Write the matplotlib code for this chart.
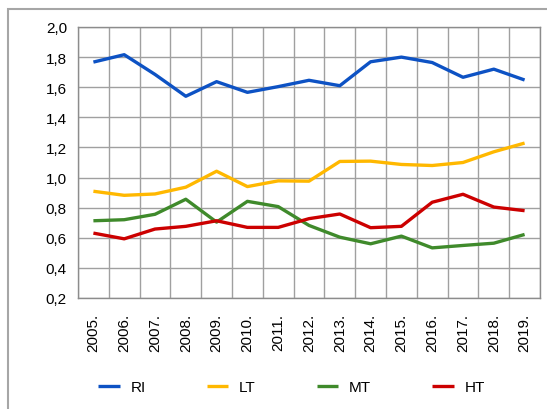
import matplotlib
matplotlib.use("Agg")
import matplotlib.pyplot as plt
from matplotlib.patches import Rectangle
import numpy as np

plt.rcParams['font.family'] = ['Liberation Sans', 'DejaVu Sans']

years = ['2005.', '2006.', '2007.', '2008.', '2009.', '2010.', '2011.', '2012.',
         '2013.', '2014.', '2015.', '2016.', '2017.', '2018.', '2019.']
ri = [1.767, 1.816, 1.685, 1.54, 1.637, 1.566, 1.604, 1.646, 1.61, 1.769, 1.80, 1.764, 1.666, 1.72, 1.648]
lt = [0.909, 0.882, 0.891, 0.936, 1.042, 0.94, 0.978, 0.976, 1.107, 1.109, 1.087, 1.08, 1.10, 1.171, 1.229]
mt = [0.713, 0.72, 0.756, 0.856, 0.704, 0.842, 0.807, 0.682, 0.604, 0.56, 0.611, 0.533, 0.549, 0.564, 0.622]
ht = [0.631, 0.593, 0.658, 0.676, 0.713, 0.669, 0.669, 0.727, 0.758, 0.667, 0.676, 0.836, 0.889, 0.804, 0.78]

series = [('RI', ri, '#0d52c4'), ('LT', lt, '#ffb800'),
          ('MT', mt, '#3f8a2b'), ('HT', ht, '#cc0000')]

fig = plt.figure(figsize=(5.47, 4.10), dpi=100)
ax = fig.add_axes([78/547, 1-299/410, 462/547, 271/410])

# outer chart frame
fig.patches.append(Rectangle((8/547, -0.1), 1.0, 1-10/410+0.1, transform=fig.transFigure,
                             fill=False, edgecolor='#a6a6a6', linewidth=1.5, clip_on=False))

x = np.arange(len(years))
for name, vals, col in series:
    ax.plot(x, vals, color=col, linewidth=2.4, label=name, solid_capstyle='butt')

ax.set_xlim(-0.5, len(years) - 0.5)
ax.set_ylim(0.2, 2.0)
ax.set_yticks(np.arange(0.2, 2.01, 0.2))
ax.set_yticklabels([f'{v:.1f}'.replace('.', ',') for v in np.arange(0.2, 2.01, 0.2)], fontsize=11)
ax.set_xticks(x)
ax.set_xticklabels(years, rotation=90, fontsize=11)
ax.set_xticks(np.arange(-0.5, len(years), 1), minor=True)
ax.tick_params(which='both', length=0)
ax.tick_params(axis='x', pad=11)
ax.tick_params(axis='y', pad=8)
ax.grid(True, axis='y', which='major', color='#a0a0a0', linewidth=1)
ax.grid(True, axis='x', which='minor', color='#a0a0a0', linewidth=1)
ax.set_axisbelow(True)
for s in ax.spines.values():
    s.set_color('#8c8c8c')
    s.set_linewidth(1)

fig.legend(loc='center', bbox_to_anchor=(0.533, 1-388/410), ncol=4, frameon=False,
           fontsize=11, handlelength=1.4, handletextpad=0.7, columnspacing=4.0)

fig.savefig('out.png', dpi=100)
